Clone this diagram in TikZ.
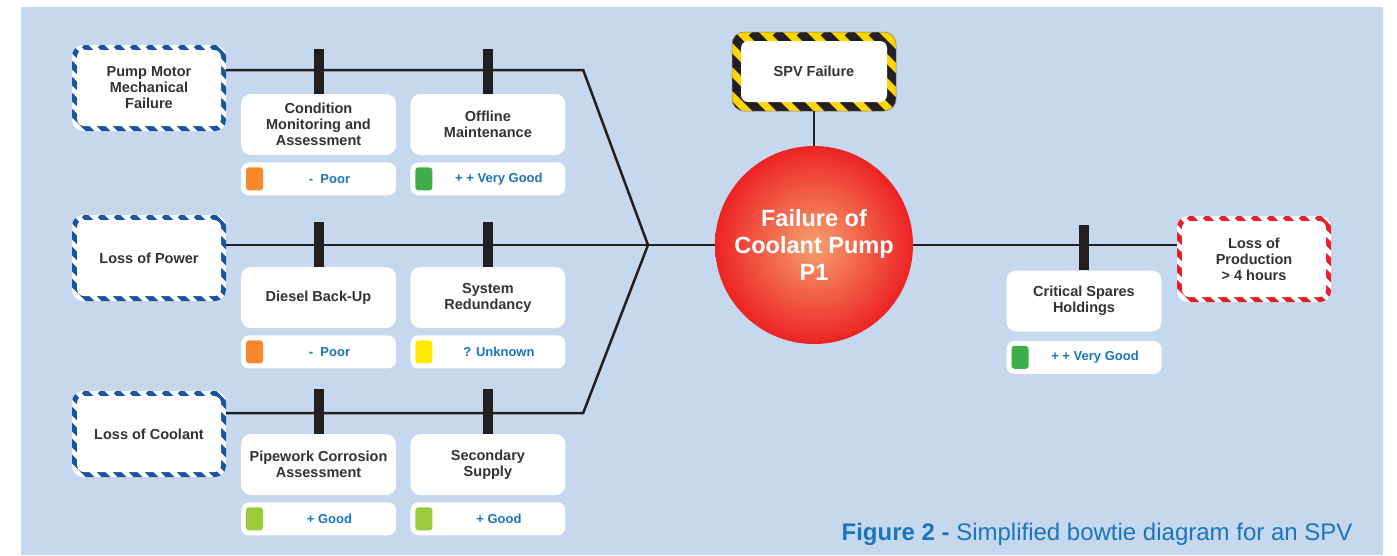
\documentclass[tikz,border=0pt]{standalone}
\usepackage{fontspec}
\setmainfont{Liberation Sans}
\usepackage{xcolor}
\usepackage{tikz}
\usetikzlibrary{positioning}

\definecolor{bgblue}{RGB}{197,216,238}
\definecolor{inkgray}{RGB}{51,51,51}
\definecolor{barblack}{RGB}{35,31,32}
\definecolor{ratingblue}{RGB}{27,117,188}
\definecolor{threatblue}{RGB}{26,84,160}
\definecolor{conseqred}{RGB}{232,32,42}
\definecolor{hazardyellow}{RGB}{255,214,0}
\definecolor{poor}{RGB}{247,137,42}
\definecolor{verygood}{RGB}{63,174,73}
\definecolor{unknown}{RGB}{255,235,0}
\definecolor{good}{RGB}{155,203,60}
\definecolor{coreinner}{RGB}{246,160,110}
\definecolor{coreouter}{RGB}{237,35,36}

\newcommand{\boxfont}{\fontsize{14.5}{16}\selectfont\bfseries}
\newcommand{\ratingfont}{\fontsize{13}{15}\selectfont\bfseries}

\begin{document}
\begin{tikzpicture}[x=1pt, y=-1pt, node distance=7pt and 14pt,
    striped/.style n args={4}{path picture={
        \fill[#1] (path picture bounding box.south west) rectangle (path picture bounding box.north east);
        \foreach \k in {0,...,25}
            \draw[#2, line width=#3*0.39] ([xshift=\k*#3-100pt]path picture bounding box.north west) -- ++(220pt,-220pt);
        \fill[white, rounded corners=7pt] ([shift={(#4,#4)}]path picture bounding box.south west) rectangle ([shift={(-#4,-#4)}]path picture bounding box.north east);
    }},
    threat/.style={striped={white}{threatblue}{16pt}{5pt}, rounded corners=11pt, minimum width=154pt, minimum height=86pt, inner sep=0pt, align=center, font=\boxfont, text=inkgray},
    barrier/.style={fill=white, rounded corners=10pt, minimum width=155pt, minimum height=61pt, inner sep=0pt, align=center, font=\boxfont, text=inkgray},
    rating/.style 2 args={fill=white, rounded corners=8pt, minimum width=155pt, minimum height=33pt, inner sep=0pt,
        path picture={\fill[#1, rounded corners=3pt] ([shift={(5pt,5pt)}]path picture bounding box.south west) rectangle ++(17pt,23pt);},
        label={[xshift=11pt, font=\ratingfont, text=ratingblue]center:#2}},
    link/.style={barblack, line width=2.5pt},
    bar/.style={barblack, line width=10pt}
]
    \useasboundingbox (0,0) rectangle (1397,555);
    \fill[bgblue] (21,7) rectangle (1383,555);

    % Threats
    \node[threat] (pump) at (149,88) {Pump Motor\\Mechanical\\Failure};
    \node[threat] (power) at (149,258) {Loss of Power};
    \node[threat] (coolant) at (149,434) {Loss of Coolant};

    % Top event and hazard
    \node[circle, minimum size=198pt, inner sep=0pt, inner color=coreinner, outer color=coreouter, align=center, text=white, font=\fontsize{23.5}{27}\selectfont\bfseries] (core) at (814,245) {Failure of\\Coolant Pump\\P1};
    \node[striped={hazardyellow}{barblack}{24pt}{9pt}, rounded corners=12pt, draw=black!50, line width=0.5pt, minimum width=164pt, minimum height=79pt, inner sep=0pt, font=\boxfont, text=inkgray] (spv) at (814,71.5) {SPV Failure};

    % Consequence
    \node[threat, striped={white}{conseqred}{16pt}{5pt}] (loss) at (1254,259) {Loss of\\Production\\> 4 hours};

    % Barriers
    \node[barrier] (monitor) at (318.5,124.5) {Condition\\Monitoring and\\Assessment};
    \node[barrier, right=of monitor] (offline) {Offline\\Maintenance};
    \node[rating={poor}{-\ \ Poor}, below=of monitor] (monitorr) {};
    \node[rating={verygood}{+ + Very Good}, below=of offline] (offliner) {};

    \node[barrier] (diesel) at (318.5,297.5) {Diesel Back-Up};
    \node[barrier, right=of diesel] (redund) {System\\Redundancy};
    \node[rating={poor}{-\ \ Poor}, below=of diesel] (dieselr) {};
    \node[rating={unknown}{? Unknown}, below=of redund] (redundr) {};

    \node[barrier] (pipework) at (318.5,464.5) {Pipework Corrosion\\Assessment};
    \node[barrier, right=of pipework] (supply) {Secondary\\Supply};
    \node[rating={good}{+ Good}, below=of pipework] (pipeworkr) {};
    \node[rating={good}{+ Good}, below=of supply] (supplyr) {};

    \node[barrier] (spares) at (1084,301) {Critical Spares\\Holdings};
    \node[rating={verygood}{+ + Very Good}, below=9pt of spares] (sparesr) {};

    % Lines
    \coordinate (hub) at (648,245);
    \draw[link] ([yshift=18pt]pump.east) -- ++(357,0) -- (hub);
    \draw[link] ([yshift=13pt]power.east) -- (core);
    \draw[link] ([yshift=21pt]coolant.east) -- ++(357,0) -- (hub);
    \draw[link] (spv.south) -- (core.north);
    \draw[link] (core) -- ([yshift=14pt]loss.west);

    % Barrier bars
    \foreach \b in {monitor, offline, diesel, redund, pipework, supply, spares}
        \draw[bar] (\b.north) -- ++(0,-45);

    \node[anchor=base east, text=ratingblue, font=\fontsize{24}{28}\selectfont] (caption) at (1356,540) {\textbf{Figure 2 -} Simplified bowtie diagram for an SPV};
\end{tikzpicture}
\end{document}
